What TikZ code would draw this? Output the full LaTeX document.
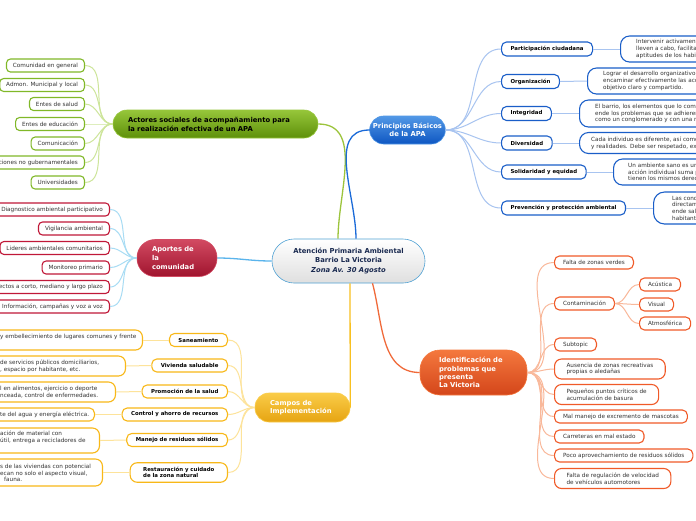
\documentclass[tikz,border=0pt]{standalone}
\usepackage{fontspec}
\setmainfont{DejaVu Sans}
\usetikzlibrary{calc}
\definecolor{txt}{HTML}{333333}
\definecolor{gborder}{HTML}{80B828}
\definecolor{rborder}{HTML}{C01838}
\definecolor{yborder}{HTML}{F8B818}
\definecolor{bborder}{HTML}{1A5EC8}
\definecolor{oborder}{HTML}{F05A28}
\definecolor{gline}{HTML}{CDE59A}
\definecolor{rline}{HTML}{A8DCF4}
\definecolor{yline}{HTML}{FDE39A}
\definecolor{bline}{HTML}{A8C4F0}
\definecolor{oline}{HTML}{F9B89A}
\definecolor{gmain}{HTML}{9CC43C}
\definecolor{bmain}{HTML}{1A6AD8}
\definecolor{rmain}{HTML}{5AB4EC}
\definecolor{ymain}{HTML}{F8C020}
\definecolor{omain}{HTML}{F06A3A}
\definecolor{navy}{HTML}{1A2A50}
\definecolor{gtop}{HTML}{96C63A}
\definecolor{gbot}{HTML}{5E900A}
\definecolor{otop}{HTML}{F4783E}
\definecolor{obot}{HTML}{D4461A}
\definecolor{rtop}{HTML}{D24A62}
\definecolor{rbot}{HTML}{A0142E}
\definecolor{ytop}{HTML}{FACC48}
\definecolor{ybot}{HTML}{E6A412}
\definecolor{btop}{HTML}{5298E6}
\definecolor{bbot}{HTML}{0E56C2}
\newcommand{\leaffont}{\fontsize{5.7}{6.7}\selectfont}
\newcommand{\subfont}{\fontsize{5.4}{6.7}\selectfont\bfseries}
\newcommand{\mainfont}{\fontsize{6.8}{8.8}\selectfont\bfseries}
\tikzset{
  leaf/.style={draw, fill=white, line width=1.1pt, rounded corners=4pt, inner xsep=6.5pt, inner ysep=0pt, minimum height=13pt, font=\leaffont, text=txt},
  gleaf/.style={leaf, draw=gborder, anchor=east},
  rleaf/.style={leaf, draw=rborder, anchor=east},
  ysub/.style={leaf, draw=yborder, anchor=east, font=\subfont, text=black, inner xsep=9pt, rounded corners=5pt},
  ybox/.style={leaf, draw=yborder, anchor=east, rounded corners=7pt},
  bsub/.style={leaf, draw=bborder, anchor=west, font=\subfont, text=black, inner xsep=9pt, minimum height=14pt, rounded corners=5pt},
  bbox/.style={leaf, draw=bborder, anchor=west, rounded corners=9pt},
  osub/.style={leaf, draw=oborder, anchor=west, inner xsep=8.5pt, rounded corners=5pt, align=left},
  cliptext/.style={anchor=west, inner sep=0pt, align=left, font=\leaffont, text=txt},
  pill/.style={line width=0.6pt, font=\mainfont},
  glink/.style={gline, line width=1pt},
  rlink/.style={rline, line width=1pt},
  ylink/.style={yline, line width=1pt},
  blink/.style={bline, line width=1pt},
  olink/.style={oline, line width=1pt},
}
\begin{document}
\begin{tikzpicture}[x=1pt,y=-1pt]
\useasboundingbox (0,0) rectangle (696,520);
\clip (0,0) rectangle (696,520);
\fill[white] (0,0) rectangle (696,520);

% ---------- main nodes ----------
\node[pill, draw=rmain!90!black, top color=white, bottom color=gray!25, minimum width=153pt, minimum height=44pt, rounded corners=22pt, align=center, text=navy, font=\fontsize{6.8}{9.5}\selectfont\bfseries] (c) at (348.5,261) {Atención Primaria Ambiental\\Barrio La Victoria\\\textit{Zona Av. 30 Agosto}};

\node[pill, draw=gtop, top color=gtop, bottom color=gbot, minimum height=28pt, rounded corners=14pt, inner xsep=15pt, text width=175pt, align=left, text=black, font=\fontsize{6.8}{9}\selectfont\bfseries] (g) at (215.5,124) {Actores sociales de acompañamiento para\\la realización efectiva de un APA};

\node[pill, draw=rtop, top color=rtop, bottom color=rbot, minimum height=37pt, rounded corners=18pt, inner xsep=15pt, text width=50pt, align=left, text=white, font=\fontsize{6.8}{8.6}\selectfont\bfseries] (r) at (177,258) {Aportes de\\la\\comunidad};

\node[pill, draw=ytop, top color=ytop, bottom color=ybot, minimum height=29pt, rounded corners=14pt, inner xsep=15pt, text width=65pt, align=left, text=white, font=\fontsize{6.8}{8.4}\selectfont\bfseries] (y) at (302.5,407.5) {Campos de\\Implementación};

\node[pill, draw=btop, top color=btop, bottom color=bbot, minimum width=75pt, minimum height=28pt, rounded corners=14pt, align=center, text=white, font=\fontsize{6.8}{8.4}\selectfont\bfseries] (b) at (407.5,130) {Principios Básicos\\de la APA};

\node[pill, draw=otop, top color=otop, bottom color=obot, minimum height=45pt, rounded corners=20pt, inner xsep=19pt, text width=69pt, align=left, text=white, font=\fontsize{6.8}{8.2}\selectfont\bfseries] (o) at (473.5,372.5) {Identificación de\\problemas que\\presenta\\La Victoria};

% ---------- main links ----------
\draw[gmain, line width=1.3pt] (g.east) to[out=0,in=90] ($(c.north)+(-10.5,0)$);
\draw[bmain, line width=1.3pt] ($(c.north)+(7.5,0)$) to[out=90,in=180] (b.west);
\draw[rmain, line width=1.3pt] (r.east) to[out=0,in=180] (c.west);
\draw[ymain, line width=1.3pt] ($(c.south)+(1.5,0)$) -- (y.east);
\draw[omain, line width=1.3pt] ($(c.south)+(24,0)$) to[out=-75,in=180] (o.west);

% ---------- green leaves ----------
\node[gleaf] (g1) at (85,65.5) {Comunidad en general};
\node[gleaf] (g2) at (85,85) {Admon. Municipal y local};
\node[gleaf] (g3) at (85,104) {Entes de salud};
\node[gleaf] (g4) at (85,124) {Entes de educación};
\node[gleaf] (g5) at (85,143.5) {Comunicación};
\node[gleaf] (g6) at (85,162.5) {Organizaciones no gubernamentales};
\node[gleaf] (g7) at (85,182.5) {Universidades};
\foreach \i in {1,...,7} \draw[glink] (g.west) to[out=180,in=0] (g\i.east);

% ---------- red leaves ----------
\node[rleaf] (r1) at (110,209.5) {Diagnostico ambiental participativo};
\node[rleaf] (r2) at (110,228.5) {Vigilancia ambiental};
\node[rleaf] (r3) at (110,248) {Lideres ambientales comunitarios};
\node[rleaf] (r4) at (110,267.5) {Monitoreo primario};
\node[rleaf] (r5) at (110,287) {Proyectos a corto, mediano y largo plazo};
\node[rleaf] (r6) at (110,306.5) {Información, campañas y voz a voz};
\foreach \i in {1,...,6} \draw[rlink] (r.west) to[out=180,in=0] (r\i.east);

% ---------- yellow subtopics ----------
\node[ysub] (y1) at (228,340) {Saneamiento};
\node[ysub] (y2) at (228,365.5) {Vivienda saludable};
\node[ysub] (y3) at (228,391.5) {Promoción de la salud};
\node[ysub] (y4) at (228,414.5) {Control y ahorro de recursos};
\node[ysub] (y5) at (228,440) {Manejo de residuos sólidos};
\node[ysub, align=left, minimum height=19.5pt, rounded corners=7pt, inner xsep=13pt] (y6) at (228,472.5) {Restauración y cuidado\\de la zona natural};
\foreach \i in {1,...,6} \draw[ylink] (y.west) to[out=180,in=0] (y\i.east);

% yellow leaves (clipped at the left edge)
\node[ybox, minimum width=200pt, minimum height=20pt] (yl1) at (143,340) {};
\node[ybox, minimum width=200pt, minimum height=20pt] (yl2) at (126,366) {};
\node[ybox, minimum width=200pt, minimum height=20pt] (yl3) at (116,392) {};
\node[ybox, minimum width=200pt, minimum height=13pt, rounded corners=5pt] (yl4) at (95,414.5) {};
\node[ybox, minimum width=200pt, minimum height=25pt] (yl5) at (100,440.5) {};
\node[ybox, minimum width=200pt, minimum height=27pt] (yl6) at (103,472.5) {};
\node[cliptext] (t1) at (0,337) {y embellecimiento de lugares comunes y frente};
\node[cliptext] (t2) at (0,366) {de servicios públicos domiciliarios,\\, espacio por habitante, etc.};
\node[cliptext] (t3) at (0,392) {l en alimentos, ejercicio o deporte\\nceada, control de enfermedades.};
\node[cliptext] (t4) at (0,414.5) {te del agua y energía eléctrica.};
\node[cliptext] (t5) at (0,437) {ación de material con\\útil, entrega a recicladores de};
\node[cliptext] (t6) at (0,473) {s de las viviendas con potencial\\ecan no solo el aspecto visual,\\\hspace*{4pt}fauna.};
\foreach \i in {1,...,6} \draw[ylink] (y\i.west) -- (yl\i.east);

% ---------- blue subtopics ----------
\node[bsub] (b1) at (501,49) {Participación ciudadana};
\node[bsub] (b2) at (501,81.5) {Organización};
\node[bsub] (b3) at (501,113.5) {Integridad};
\node[bsub] (b4) at (501,143) {Diversidad};
\node[bsub] (b5) at (501,172) {Solidaridad y equidad};
\node[bsub] (b6) at (501,208) {Prevención y protección ambiental};
\foreach \i in {1,...,6} \draw[blink] (b.east) to[out=0,in=180] (b\i.west);

% blue leaves (clipped at the right edge)
\node[bbox, minimum width=150pt, minimum height=26pt] (bl1) at (620,49) {};
\node[bbox, minimum width=150pt, minimum height=26pt] (bl2) at (587,81) {};
\node[bbox, minimum width=150pt, minimum height=27pt] (bl3) at (579,113.5) {};
\node[bbox, minimum width=150pt, minimum height=21pt] (bl4) at (579,143) {};
\node[bbox, minimum width=150pt, minimum height=26pt] (bl5) at (613,172) {};
\node[bbox, minimum width=150pt, minimum height=32pt, rounded corners=11pt] (bl6) at (653,208) {};
\node[cliptext] (u1) at (636,49) {Intervenir activament\\lleven a cabo, facilitac\\aptitudes de los habit};
\node[cliptext] (u2) at (603,81) {Lograr el desarrollo organizativo c\\encaminar efectivamente las accio\\objetivo claro y compartido.};
\node[cliptext] (u3) at (595,113.5) {El barrio, los elementos que lo comp\\ende los problemas que se adhieren\\como un conglomerado y con una m};
\node[cliptext] (u4) at (591,143) {Cada individuo es diferente, así como\\y realidades. Debe ser respetado, exc};
\node[cliptext] (u5) at (628,172) {Un ambiente sano es un\\acción individual suma p\\tienen los mismos derec};
\node[cliptext] (u6) at (672,208) {Las cond\\directam\\ende sal\\habitant};
\foreach \i in {1,...,6} \draw[blink] (b\i.east) -- (bl\i.west);

% ---------- orange subtopics ----------
\node[osub] (o1) at (554,262.5) {Falta de zonas verdes};
\node[osub] (o2) at (554,303.5) {Contaminación};
\node[osub] (o3) at (554,344.5) {Subtopic};
\node[osub, inner xsep=12pt, minimum height=20pt, rounded corners=7pt] (o4) at (554,369) {Ausencia de zonas recreativas\\propias o aledañas};
\node[osub, inner xsep=12pt, minimum height=20pt, rounded corners=7pt] (o5) at (554,394.5) {Pequeños puntos críticos de\\acumulación de basura};
\node[osub] (o6) at (554,416.5) {Mal manejo de excremento de mascotas};
\node[osub] (o7) at (554,436.5) {Carreteras en mal estado};
\node[osub] (o8) at (554,455.5) {Poco aprovechamiento de residuos sólidos};
\node[osub, inner xsep=12pt, minimum height=20pt, rounded corners=7pt] (o9) at (554,478.5) {Falta de regulación de velocidad\\de vehículos automotores};
\foreach \i in {1,...,9} \draw[olink] (o.east) to[out=0,in=180] (o\i.west);

\node[osub] (a1) at (639,284.5) {Acústica};
\node[osub] (a2) at (639,304.5) {Visual};
\node[osub] (a3) at (639,323.5) {Atmosférica};
\foreach \i in {1,2,3} \draw[olink] (o2.east) to[out=0,in=180] (a\i.west);
\end{tikzpicture}
\end{document}
